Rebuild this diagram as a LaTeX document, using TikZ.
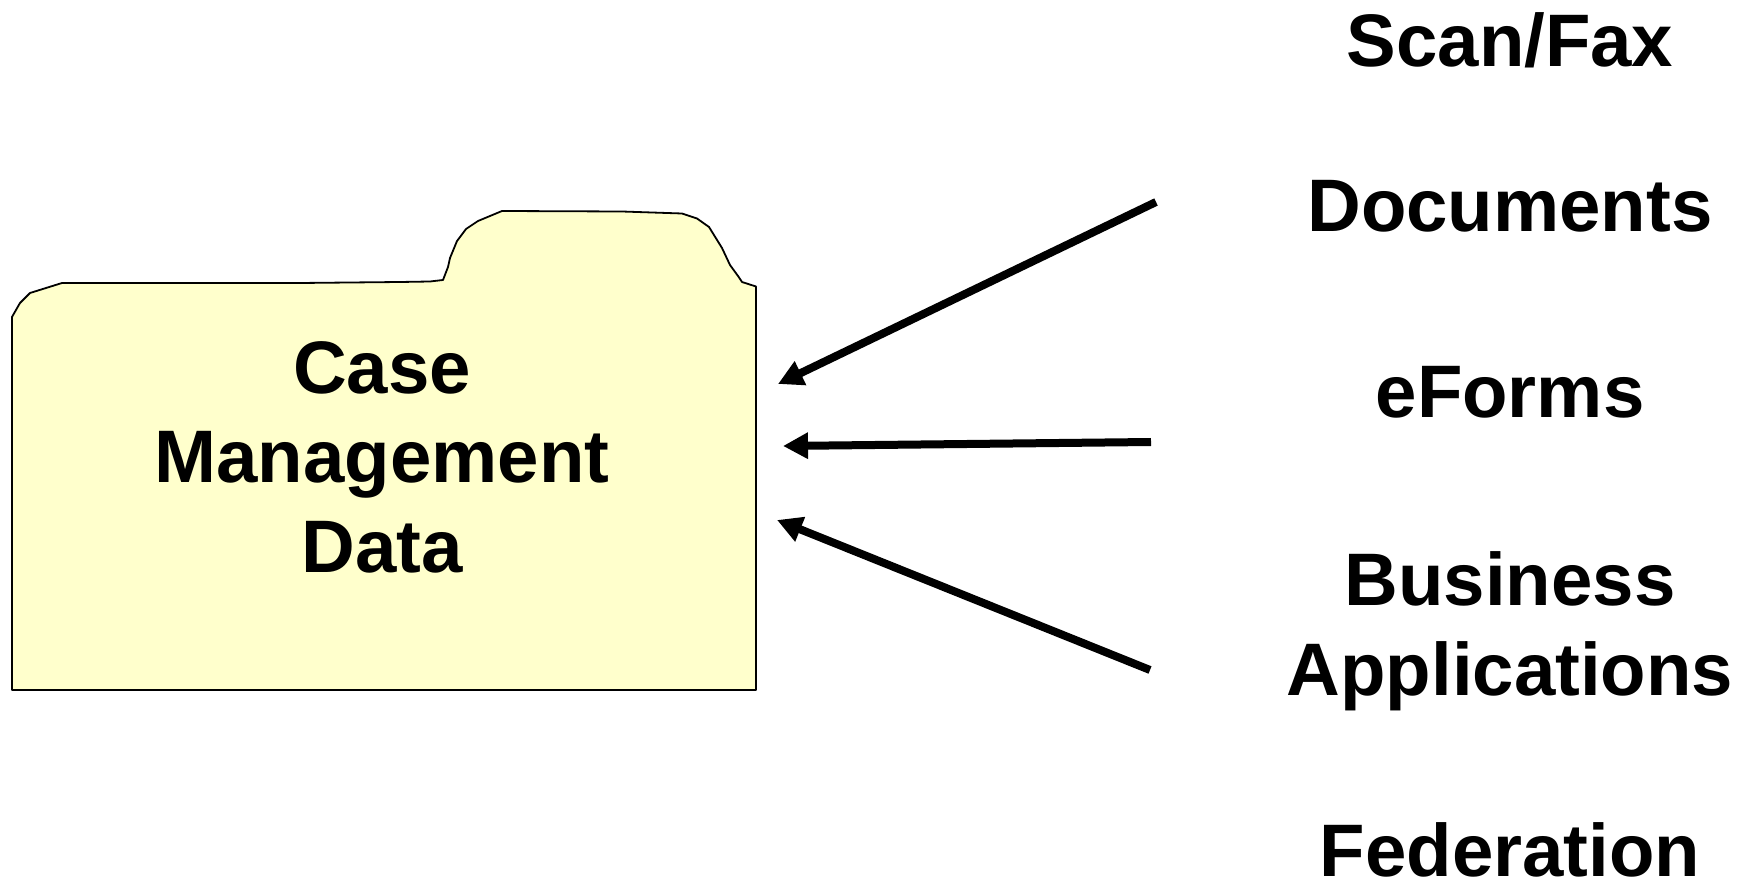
\documentclass[tikz,border=0pt]{standalone}
\usepackage{fontspec}
\setmainfont{Liberation Sans}
\usetikzlibrary{arrows.meta}
\tikzset{
  x=0.5pt,y=-0.5pt,
  lbl/.style={font=\fontsize{37.2pt}{44.8pt}\selectfont\bfseries,align=center,text=black,inner sep=0pt,anchor=center},
  folder/.style={draw=black,fill=folderfill,line width=0.9pt,line join=round},
  feed/.style={draw=black,line width=4pt,-{Triangle[length=12.5pt,width=12.5pt]}}
}
\definecolor{folderfill}{HTML}{FFFFCC}
\begin{document}
\begin{tikzpicture}
\useasboundingbox (0,0) rectangle (1750,881);
\path[folder] (12,690) -- (12,317) -- (20,303) -- (30,293) -- (62,283) -- (300,283) -- (400,282) -- (430,281.5) -- (443,280)
  -- (448,267) -- (450,258) -- (457,241) -- (466,229) -- (478,221) -- (502,211) -- (622,211.5) -- (682,213.5) -- (697,218.5) -- (709,227)
  -- (722,248) -- (730,265) -- (738,276) -- (742,282) -- (756,286.5) -- (756,690) -- cycle;
\node[lbl] (case) at (382,457) {Case\\Management\\Data};
\node[lbl] (scan) at (1510,40) {Scan/Fax};
\node[lbl] (docs) at (1510,206) {Documents};
\node[lbl] (eforms) at (1510,392) {eForms};
\node[lbl] (biz) at (1510,631) {Business\\Applications};
\node[lbl] (fed) at (1510,850) {Federation};
\coordinate (d1) at (1156,202);
\coordinate (d2) at (778,384);
\coordinate (e1) at (1151,442);
\coordinate (e2) at (783,446);
\coordinate (b1) at (1150,670);
\coordinate (b2) at (777,520);
\draw[feed] (d1) -- (d2);
\draw[feed] (e1) -- (e2);
\draw[feed] (b1) -- (b2);
\end{tikzpicture}
\end{document}
